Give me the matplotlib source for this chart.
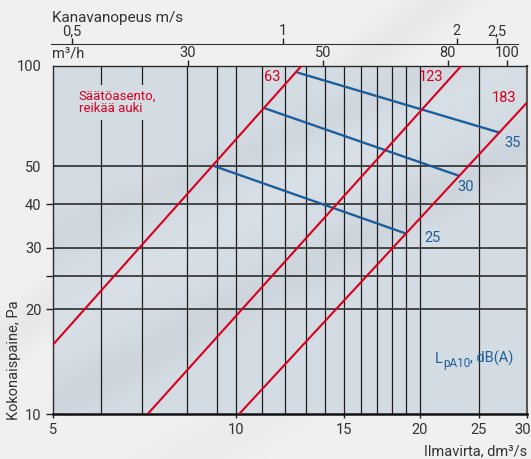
import numpy as np
import matplotlib
matplotlib.use('Agg')
import matplotlib.pyplot as plt
import matplotlib.transforms as mtrans
from matplotlib.ticker import FixedLocator, NullLocator, FixedFormatter

plt.rcParams['font.family'] = ['Roboto', 'DejaVu Sans']

# ---------------- data ----------------
red_labels = ['63', '123', '183']
red_q = [[5.0, 12.8], [7.15, 23.4], [10.1, 30.0]]
red_p = [[15.8, 100.0], [10.0, 100.0], [10.0, 78.5]]
red_label_q = [11.45, 20.9, 27.5]
red_label_p = [93.0, 93.0, 81.0]

blue_labels = ['25', '30', '35']
blue_q = [[9.18, 18.97], [11.13, 23.2], [12.57, 27.0]]
blue_p = [[51.6, 33.0], [75.5, 48.3], [95.7, 64.3]]
blue_label_q = [21.0, 23.8, 28.4]
blue_label_p = [32.0, 45.0, 60.1]

x_ticks = [5, 10, 15, 20, 25, 30]
x_ticklabels = ['5', '10', '15', '20', '25', '30']
x_grid = [6, 7, 8.3, 9.3, 10, 11, 12, 13, 14, 15, 16, 17, 18, 19, 20, 25]
y_ticks = [10, 20, 25, 30, 40, 51.5, 100]
y_ticklabels = ['10', '20', '', '30', '40', '50', '100']
y_grid = [20, 25, 30, 40, 51.5]
m3h_ticks = [30, 50, 80, 100]
m3h_labels = ['30', '50', '80', '100']
vel_tick_pos = [5.38, 11.93, 23.0, 26.8]
vel_labels = ['0,5', '1', '2', '2,5']

RED = '#d7001e'
BLUE = '#1d5e9b'
TXT = '#333333'

fig = plt.figure(figsize=(5.31, 4.59), dpi=100)
fig.patch.set_facecolor('#efefef')

# figure background streaks
bg = fig.add_axes([0, 0, 1, 1], zorder=-10)
bg.axis('off')
u, v = np.meshgrid(np.linspace(0, 1, 300), np.linspace(0, 1, 300))
val = 0.945 - 0.035 * np.exp(-((v - (0.9 * u + 0.25)) / 0.06) ** 2) \
      - 0.02 * np.exp(-((v - (0.7 * u - 0.25)) / 0.08) ** 2)
bg.imshow(np.dstack([val, val, val]), extent=(0, 1, 0, 1), origin='lower',
          aspect='auto', transform=bg.transAxes)

ax = fig.add_axes([0.0992, 0.0974, 0.8937, 0.7595])
ax.set_xscale('log')
ax.set_yscale('log')
ax.set_xlim(5, 30)
ax.set_ylim(10, 100)

# plot-area background
base = np.array([0.835, 0.865, 0.893])
sh = 1.0 - 0.035 * np.exp(-((v - (0.75 * u + 0.02)) / 0.07) ** 2) \
     - 0.025 * np.exp(-((v - (0.6 * u + 0.5)) / 0.06) ** 2) \
     + 0.015 * np.exp(-((v - (0.8 * u + 0.25)) / 0.08) ** 2)
img = np.clip(base[None, None, :] * sh[:, :, None], 0, 1)
ax.imshow(img, extent=(0, 1, 0, 1), origin='lower', aspect='auto',
          transform=ax.transAxes, zorder=0)

for xg in x_grid:
    ax.axvline(xg, color='#1e1e1e', lw=0.9, zorder=1)
for yg in y_grid:
    ax.axhline(yg, color='#3a3a3a', lw=1.3, zorder=1)

for q, p in zip(red_q, red_p):
    ax.plot(q, p, color=RED, lw=1.5, zorder=3, solid_capstyle='butt')
for q, p in zip(blue_q, blue_p):
    ax.plot(q, p, color=BLUE, lw=1.7, zorder=2, solid_capstyle='butt')

for t, q, p in zip(red_labels, red_label_q, red_label_p):
    ax.text(q, p, t, color=RED, fontsize=10.5, ha='center', va='center', zorder=4)
for t, q, p in zip(blue_labels, blue_label_q, blue_label_p):
    ax.text(q, p, t, color=BLUE, fontsize=10.5, ha='center', va='center', zorder=4)

# L_pA10, dB(A) built from three pieces
LX, LY = 0.805, 0.148
t1 = ax.text(LX, LY, 'L', color=BLUE, fontsize=10.5, ha='left',
             va='baseline', transform=ax.transAxes, zorder=4)
t2 = ax.annotate('pA10', xy=(1, LY), xycoords=(t1, ax.transAxes), xytext=(0.3, -3),
                 textcoords='offset points', color=BLUE, fontsize=8.5,
                 ha='left', va='baseline', zorder=4)
t3 = ax.annotate(', dB(A)', xy=(1, LY), xycoords=(t2, ax.transAxes), xytext=(0, 0),
                 textcoords='offset points', color=BLUE, fontsize=10.5,
                 ha='left', va='baseline', zorder=4)

ax.text(0.055, 0.895, 'Säätöasento,\nreikää auki', color=RED, fontsize=9.5,
        ha='left', va='center', linespacing=1.0, transform=ax.transAxes, zorder=4,
        bbox=dict(boxstyle='square,pad=0.35', facecolor='#d3dbe3', edgecolor='none'))

# axes ticks
ax.xaxis.set_major_locator(FixedLocator(x_ticks))
ax.xaxis.set_major_formatter(FixedFormatter(x_ticklabels))
ax.xaxis.set_minor_locator(NullLocator())
ax.yaxis.set_major_locator(FixedLocator(y_ticks))
ax.yaxis.set_major_formatter(FixedFormatter(y_ticklabels))
ax.yaxis.set_minor_locator(NullLocator())
ax.tick_params(axis='x', direction='out', length=3, width=1, pad=3,
               labelsize=10.5, labelcolor=TXT, color='#222222')
ax.tick_params(axis='y', direction='out', length=5, width=1, pad=3,
               labelsize=10.5, labelcolor=TXT, color='#222222')
for i, tk in enumerate(ax.yaxis.get_major_ticks()):
    if y_ticks[i] in (51.5, 100):
        tk.tick1line.set_visible(False)

fig.canvas.draw()
last = ax.xaxis.get_major_ticks()[-1].label1
last.set_transform(last.get_transform() +
                   mtrans.ScaledTranslation(-5 / 100, 0, fig.dpi_scale_trans))

for s in ax.spines.values():
    s.set_color('#2a2a2a')
    s.set_linewidth(1.0)
ax.spines['bottom'].set_linewidth(1.8)
ax.spines['bottom'].set_color('#111111')
ax.spines['right'].set_color('#555555')
ax.spines['right'].set_linewidth(1.5)

# m3/h axis
sec = ax.secondary_xaxis('top', functions=(lambda q: q * 3.6, lambda m: m / 3.6))
sec.xaxis.set_major_locator(FixedLocator(m3h_ticks))
sec.xaxis.set_major_formatter(FixedFormatter(m3h_labels))
sec.xaxis.set_minor_locator(NullLocator())
sec.tick_params(direction='out', length=4, width=1, pad=0, labelsize=10.5,
                labelcolor=TXT, color='#222222')
sec.spines['top'].set_visible(False)

# velocity axis
vel = ax.secondary_xaxis(1.0622)
vel.xaxis.set_major_locator(FixedLocator(vel_tick_pos))
vel.xaxis.set_major_formatter(FixedFormatter(vel_labels))
vel.xaxis.set_minor_locator(NullLocator())
vel.tick_params(direction='out', length=4, width=1, pad=0, labelsize=10.5,
                labelcolor=TXT, color='#222222')
vel.spines['top'].set_bounds(4.97, 29.0)
vel.spines['top'].set_color('#333333')

fig.text(0.098, 0.884, 'm³/h', fontsize=10.5, color=TXT, ha='left', va='center')
fig.text(0.097, 0.961, 'Kanavanopeus m/s', fontsize=11, color=TXT, ha='left', va='center')
fig.text(0.993, 0.017, 'Ilmavirta, dm³/s', fontsize=10.5, color=TXT, ha='right', va='center')
fig.text(0.027, 0.215, 'Kokonaispaine, Pa', fontsize=10.5, color=TXT, ha='center',
         va='center', rotation=90)

fig.savefig('out.png', dpi=100, facecolor=fig.get_facecolor())
